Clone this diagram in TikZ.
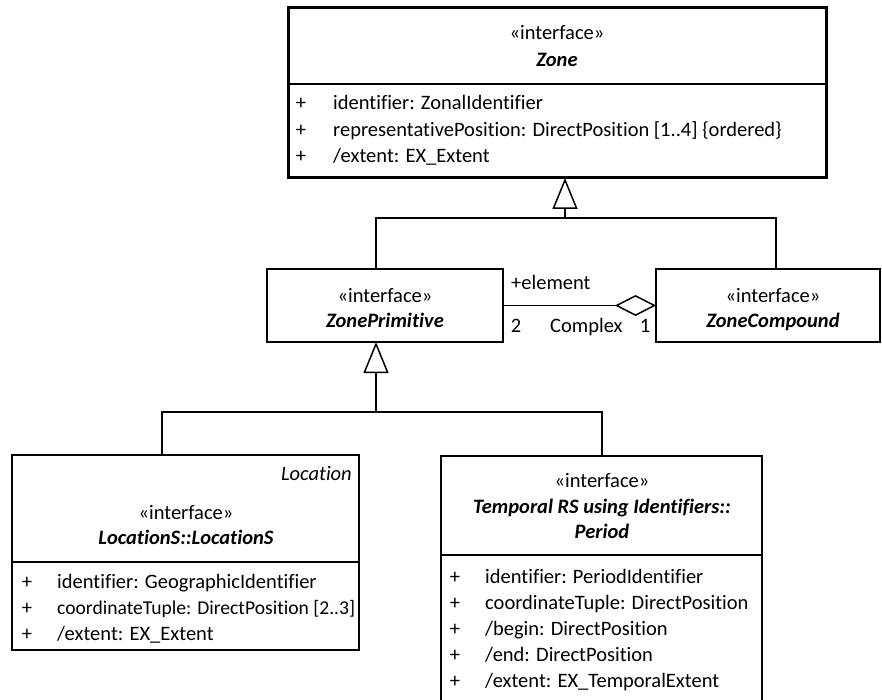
\documentclass[tikz,border=0pt]{standalone}
\usepackage{fontspec}
\setmainfont{Carlito}[Ligatures=CommonOff]
\usetikzlibrary{arrows.meta,calc}
\begin{document}
\begin{tikzpicture}[x=1pt,y=-1pt,
  classbox/.style={draw,line width=1.5pt,anchor=north west,inner sep=0pt,outer sep=0pt,rectangle},
  txt/.style={inner sep=0pt,font=\fontsize{20.5}{24}\selectfont,text height=13pt,text depth=0pt},
  attr/.style={txt,anchor=west},
  conn/.style={line width=1.5pt},
  gen/.style={conn,-{Triangle[open,length=31pt,width=25pt]}},
  agg/.style={conn,-{Diamond[open,length=41pt,width=21pt]}}
]
\useasboundingbox (0,0) rectangle (882,700);
\clip (0,0) rectangle (882,700);

% ---- Zone ----
\node[classbox,line width=3pt,minimum width=538pt,minimum height=170pt] (zone) at (288,8) {};
\draw[line width=2.5pt] ($(zone.north west)+(0,76)$) -- ($(zone.north east)+(0,76)$);
\node[txt] (zoneS) at (557,33) {«interface»};
\node[txt] (zoneN) at (557,60) {\textbf{\textit{Zone}}};
\node[txt] (zp1) at (301,103) {+};
\node[attr] (za1) at (333,103) {identifier: ZonalIdentifier};
\node[txt] (zp2) at (301,130) {+};
\node[attr] (za2) at (333,130) {representativePosition: DirectPosition [1..4] \{ordered\}};
\node[txt] (zp3) at (301,156) {+};
\node[attr] (za3) at (333,156) {/extent: EX\_Extent};

% ---- ZonePrimitive ----
\node[classbox,minimum width=236pt,minimum height=73pt] (zprim) at (267,269) {};
\node[txt] (zprimS) at (385,296) {«interface»};
\node[txt] (zprimN) at (385,321) {\textbf{\textit{ZonePrimitive}}};

% ---- ZoneCompound ----
\node[classbox,minimum width=224pt,minimum height=73pt] (zcomp) at (656,269) {};
\node[txt] (zcompS) at (773,296) {«interface»};
\node[txt] (zcompN) at (773,321) {\textbf{\textit{ZoneCompound}}};

% ---- LocationS ----
\node[classbox,minimum width=347pt,minimum height=195pt] (loc) at (12,455) {};
\draw[line width=1.5pt] ($(loc.north west)+(0,107)$) -- ($(loc.north east)+(0,107)$);
\node[txt,anchor=east] (locPkg) at (352,474) {\textit{Location}};
\node[txt] (locS) at (186,513) {«interface»};
\node[txt] (locN) at (186,538) {\textbf{\textit{LocationS::LocationS}}};
\node[txt] (lp1) at (27,582) {+};
\node[attr] (la1) at (57,582) {identifier: GeographicIdentifier};
\node[txt] (lp2) at (27,608) {+};
\node[attr,font=\fontsize{19.6}{24}\selectfont] (la2) at (57,608) {coordinateTuple: DirectPosition [2..3]};
\node[txt] (lp3) at (27,634) {+};
\node[attr] (la3) at (57,634) {/extent: EX\_Extent};

% ---- Period ----
\node[classbox,minimum width=321pt,minimum height=250pt] (per) at (441,456) {};
\draw[line width=1.5pt] ($(per.north west)+(0,99)$) -- ($(per.north east)+(0,99)$);
\node[txt] (perS) at (602,481) {«interface»};
\node[txt] (perN1) at (602,507) {\textbf{\textit{Temporal RS using Identifiers::}}};
\node[txt] (perN2) at (602,532) {\textbf{\textit{Period}}};
\node[txt] (pp1) at (455,577) {+};
\node[attr] (pa1) at (485,577) {identifier: PeriodIdentifier};
\node[txt] (pp2) at (455,603) {+};
\node[attr] (pa2) at (485,603) {coordinateTuple: DirectPosition};
\node[txt] (pp3) at (455,629) {+};
\node[attr] (pa3) at (485,629) {/begin: DirectPosition};
\node[txt] (pp4) at (455,655) {+};
\node[attr] (pa4) at (485,655) {/end: DirectPosition};
\node[txt] (pp5) at (455,681) {+};
\node[attr] (pa5) at (485,681) {/extent: EX\_TemporalExtent};

% ---- generalizations ----
\coordinate (j1) at (565,218);
\coordinate (c1) at (376,0);
\coordinate (c2) at (776,0);
\draw[conn] (zprim.north -| c1) |- (j1);
\draw[conn] (zcomp.north -| c2) |- (j1);
\draw[gen] (j1) -- (zone.south -| j1);

\coordinate (j2) at (376,412);
\coordinate (c3) at (162,0);
\coordinate (c4) at (602,0);
\draw[conn] (loc.north -| c3) |- (j2);
\draw[conn] (per.north -| c4) |- (j2);
\draw[gen] (j2) -- (zprim.south -| j2);

% ---- aggregation ----
\draw[agg] (zprim.east) -- (zcomp.west);
\node[attr] (role) at (511,283) {+element};
\node[txt] (m2) at (516,326) {2};
\node[attr] (assoc) at (550,326) {Complex};
\node[txt] (m1) at (645,326) {1};
\end{tikzpicture}
\end{document}
